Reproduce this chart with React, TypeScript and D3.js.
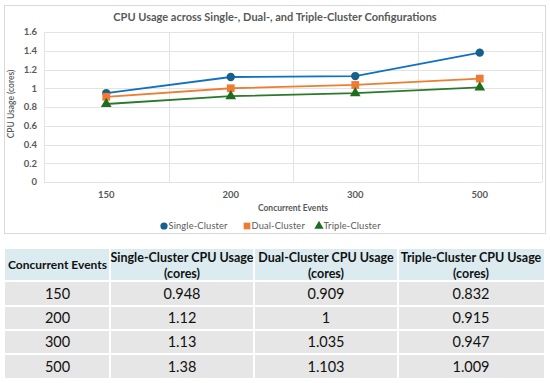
import React from 'react';
import * as d3 from 'd3';

// chart data
const events = ['150', '200', '300', '500'];
const singleCluster = [0.948, 1.12, 1.13, 1.38];
const dualCluster = [0.909, 1, 1.035, 1.103];
const tripleCluster = [0.832, 0.915, 0.947, 1.009];
const seriesNames = ['Single-Cluster', 'Dual-Cluster', 'Triple-Cluster'];
const yTicks = [0, 0.2, 0.4, 0.6, 0.8, 1, 1.2, 1.4, 1.6];

// table data
const tableHeaders = [
  ['Concurrent Events'],
  ['Single-Cluster CPU Usage', '(cores)'],
  ['Dual-Cluster CPU Usage', '(cores)'],
  ['Triple-Cluster CPU Usage', '(cores)'],
];
const tableRows = [
  ['150', '0.948', '0.909', '0.832'],
  ['200', '1.12', '1', '0.915'],
  ['300', '1.13', '1.035', '0.947'],
  ['500', '1.38', '1.103', '1.009'],
];

const W = 550;
const H = 383;
const font = 'Lato, "Liberation Sans", sans-serif';
const grey = '#595959';

const App = () => {
  const x = d3.scaleBand().domain(events).range([44, 542]);
  const y = d3.scaleLinear().domain([0, 1.6]).range([182, 32]);
  const fmt = d3.format('~g');

  const series = [
    { name: seriesNames[0], values: singleCluster, line: '#1070C4', mark: '#17608C', shape: d3.symbolCircle, size: 55 },
    { name: seriesNames[1], values: dualCluster, line: '#ED7D31', mark: '#F07A35', shape: d3.symbolSquare, size: 60 },
    { name: seriesNames[2], values: tripleCluster, line: '#2B7A2B', mark: '#1F6E1F', shape: d3.symbolTriangle, size: 50 },
  ];

  const line = d3.line<number>()
    .x((d, i) => (x(events[i]) as number) + x.bandwidth() / 2)
    .y(d => y(d));

  // legend layout
  const legendX = [164, 247, 319];

  // table layout
  const colEdges = [5, 110, 254, 398, 544];
  const rowEdges = [249, 281, 306, 330, 354, 379];
  const gap = 2;

  return (
    <svg width={W} height={H} style={{ position: 'absolute', left: 0, top: 0, background: '#fff' }} fontFamily={font}>
      <rect x={4.5} y={5.5} width={541} height={228} fill="#fff" stroke="#D9D9D9" />
      <text x={275} y={21} textAnchor="middle" fontSize={11} fontWeight={700} fill={grey}>
        CPU Usage across Single-, Dual-, and Triple-Cluster Configurations
      </text>

      {/* gridlines */}
      {yTicks.map(t => (
        <g key={t}>
          <line x1={44} x2={542} y1={Math.round(y(t)) + 0.5} y2={Math.round(y(t)) + 0.5} stroke="#E3E3E3" />
          <text x={37} y={y(t)} dy="0.35em" textAnchor="end" fontSize={9.5} fontWeight={700} fill={grey}>{fmt(t)}</text>
        </g>
      ))}
      {[0, 1, 2, 3, 4].map(i => {
        const xv = Math.round(44 + i * x.step()) + 0.5;
        return <line key={i} x1={xv} x2={xv} y1={32} y2={182} stroke="#E3E3E3" />;
      })}
      {events.map(e => (
        <text key={e} x={(x(e) as number) + x.bandwidth() / 2} y={198} textAnchor="middle" fontSize={9.5} fontWeight={700} fill={grey}>{e}</text>
      ))}
      <text x={293} y={211} textAnchor="middle" fontSize={8.5} fontWeight={700} fill={grey}>Concurrent Events</text>
      <text transform="translate(14,104) rotate(-90)" textAnchor="middle" fontSize={8.5} fontWeight={600} fill={grey}>CPU Usage (cores)</text>

      {/* series */}
      {series.map(s => (
        <g key={s.name}>
          <path d={line(s.values) || ''} fill="none" stroke={s.line} strokeWidth={1.8} />
          {s.values.map((v, i) => (
            <path key={i}
              transform={`translate(${(x(events[i]) as number) + x.bandwidth() / 2},${y(v)})`}
              d={d3.symbol().type(s.shape).size(s.size)() || ''}
              fill={s.mark} />
          ))}
        </g>
      ))}

      {/* legend */}
      {series.map((s, i) => (
        <g key={s.name} transform={`translate(${legendX[i]},226)`}>
          <path d={d3.symbol().type(s.shape).size(s.size * 0.75)() || ''} fill={s.mark} />
          <text x={4.5} dy="0.35em" fontSize={9.3} letterSpacing={0.15} fill={grey}>{s.name}</text>
        </g>
      ))}

      {/* table */}
      {tableHeaders.map((h, c) => (
        <g key={c}>
          <rect x={colEdges[c] + (c ? gap / 2 : 0)} y={rowEdges[0]} width={colEdges[c + 1] - colEdges[c] - (c ? gap / 2 : 0) - (c < 3 ? gap / 2 : 0)} height={rowEdges[1] - rowEdges[0] - gap / 2} fill="#DCEBF0" />
          {h.map((t, k) => (
            <text key={k} x={(colEdges[c] + colEdges[c + 1]) / 2}
              y={h.length === 1 ? 265 : 258 + k * 16}
              dy="0.35em" textAnchor="middle" fontSize={h.length === 1 ? 12 : 12.5} fontWeight={700} fill="#111">{t}</text>
          ))}
        </g>
      ))}
      {tableRows.map((row, r) => row.map((v, c) => (
        <g key={`${r}-${c}`}>
          <rect x={colEdges[c] + (c ? gap / 2 : 0)} y={rowEdges[r + 1] + gap / 2}
            width={colEdges[c + 1] - colEdges[c] - (c ? gap / 2 : 0) - (c < 3 ? gap / 2 : 0)}
            height={rowEdges[r + 2] - rowEdges[r + 1] - gap} fill="#E7E6E6" />
          <text x={(colEdges[c] + colEdges[c + 1]) / 2} y={(rowEdges[r + 1] + rowEdges[r + 2]) / 2}
            dy="0.35em" textAnchor="middle" fontSize={14.5} fill="#111">{v}</text>
        </g>
      )))}
    </svg>
  );
};

export default App;
